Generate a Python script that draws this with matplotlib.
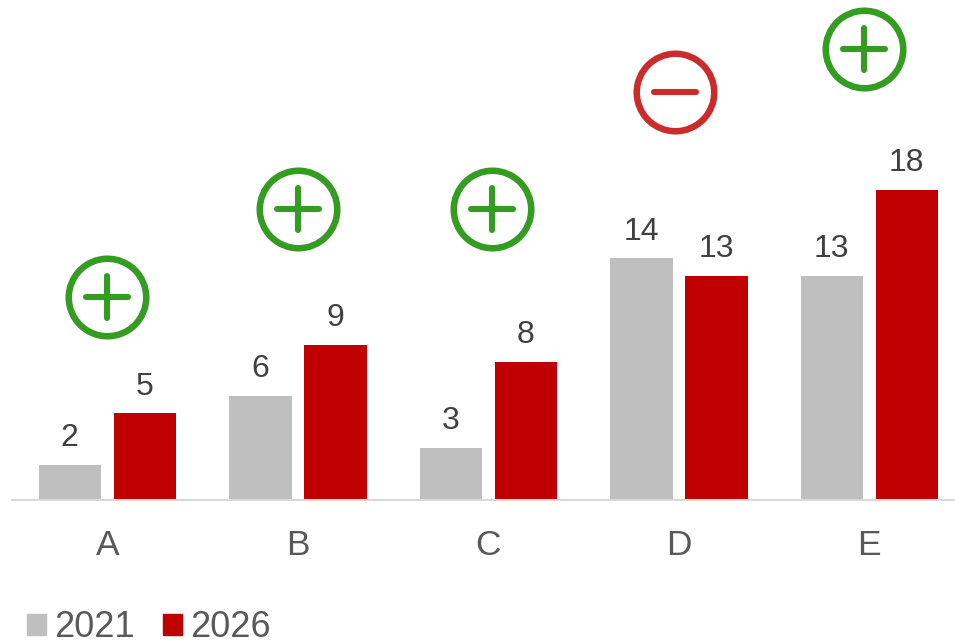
import matplotlib
matplotlib.use("Agg")
import matplotlib.pyplot as plt
from matplotlib.markers import MarkerStyle
from matplotlib.patches import Patch
import numpy as np

categories = ["A", "B", "C", "D", "E"]
series_names = ["2021", "2026"]
values_2021 = [2, 6, 3, 14, 13]
values_2026 = [5, 9, 8, 13, 18]
icon_kind = ["+", "+", "+", "-", "+"]
icon_x = [0.0, 0.0, 0.02, -0.02, -0.03]
icon_y = [11.75, 16.85, 16.85, 23.65, 26.15]

GRAY, RED = "#BFBFBF", "#C00000"
GREEN, ICON_RED = "#359C22", "#CC2B2B"

plt.rcParams["font.family"] = ["Liberation Sans", "DejaVu Sans"]
W, H = 955, 640
fig = plt.figure(figsize=(W / 100, H / 100), dpi=100)
base_px = 499.5
ax = fig.add_axes([12.0 / W, 1 - base_px / H, (W - 12.0) / W, base_px / H])
ax.patch.set_alpha(0)
ax.set_xlim(-0.5, -0.5 + (W - 12.0) / 190.5)
ax.set_ylim(0, base_px / 17.22)

x = np.arange(len(categories))
bw = 62.5 / 190.5
off = 37.5 / 190.5
ax.bar(x - off, values_2021, bw, color=GRAY)
ax.bar(x + off, values_2026, bw, color=RED)

for xi, v in zip(x - off, values_2021):
    ax.annotate(str(v), (xi, v), xytext=(0, 8.5), textcoords="offset points",
                ha="center", va="bottom", fontsize=23, color="#404040")
for xi, v in zip(x + off, values_2026):
    ax.annotate(str(v), (xi, v), xytext=(0, 8.5), textcoords="offset points",
                ha="center", va="bottom", fontsize=23, color="#404040")

for xi, dx, y, k in zip(x, icon_x, icon_y, icon_kind):
    c = GREEN if k == "+" else ICON_RED
    ax.plot(xi + dx, y, "o", ms=55.8, mfc="none", mec=c, mew=4.7, clip_on=False)
    if k == "+":
        ax.plot(xi + dx, y, marker=MarkerStyle("+", capstyle="round"), ms=30, mec=c, mew=4.4, clip_on=False)
    else:
        ax.plot(xi + dx, y, marker=MarkerStyle("_", capstyle="round"), ms=30, mec=c, mew=4.4, clip_on=False)

for s in ["top", "left", "right"]:
    ax.spines[s].set_visible(False)
ax.spines["bottom"].set_color("#D9D9D9")
ax.spines["bottom"].set_linewidth(1.5)
ax.set_yticks([])
ax.set_xticks(x, categories)
ax.tick_params(axis="x", length=0, pad=21, labelsize=25.5, labelcolor="#595959")

fig.legend(handles=[Patch(color=GRAY, label=series_names[0]), Patch(color=RED, label=series_names[1])],
           loc="lower left", bbox_to_anchor=(27 / W, -5 / H), borderaxespad=0, borderpad=0, frameon=False,
           ncol=2, fontsize=26, labelcolor="#595959", handlelength=0.53, handleheight=0.53,
           handletextpad=0.22, columnspacing=0.78)
fig.savefig("out.png", dpi=100)
